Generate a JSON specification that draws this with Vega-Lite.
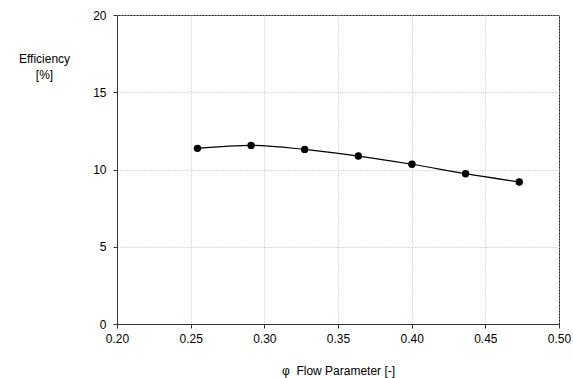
{
  "$schema": "https://vega.github.io/schema/vega-lite/v6.json",
  "width": 442,
  "height": 309,
  "autosize": {"type": "none"},
  "padding": {"left": 117, "top": 15, "right": 14, "bottom": 54},
  "background": "white",
  "config": {
    "font": "Liberation Sans",
    "view": {"stroke": "#222", "strokeWidth": 1},
    "axis": {
      "labelFont": "Liberation Sans",
      "titleFont": "Liberation Sans",
      "labelFontSize": 12,
      "titleFontSize": 12,
      "labelColor": "#000",
      "titleColor": "#000",
      "titleFontWeight": "normal",
      "domainColor": "#333",
      "tickColor": "#333",
      "tickSize": 4,
      "gridColor": "#b8b8b8",
      "gridDash": [1, 2],
      "gridWidth": 1
    }
  },
  "data": {
    "values": [
      {"phi": 0.2546, "eff": 11.37},
      {"phi": 0.2910, "eff": 11.56},
      {"phi": 0.3274, "eff": 11.30},
      {"phi": 0.3638, "eff": 10.87},
      {"phi": 0.4002, "eff": 10.34},
      {"phi": 0.4366, "eff": 9.73},
      {"phi": 0.4730, "eff": 9.19}
    ]
  },
  "encoding": {
    "x": {
      "field": "phi",
      "type": "quantitative",
      "scale": {"domain": [0.2, 0.5], "nice": false, "zero": false},
      "axis": {
        "title": "φ\u00a0\u00a0Flow Parameter [-]",
        "values": [0.2, 0.25, 0.3, 0.35, 0.4, 0.45, 0.5],
        "format": ".2f",
        "labelPadding": 5,
        "titleBaseline": "alphabetic",
        "titleY": 50,
        "labelFlush": false
      }
    },
    "y": {
      "field": "eff",
      "type": "quantitative",
      "scale": {"domain": [0, 20], "nice": false},
      "axis": {
        "title": ["Efficiency", "[%]"],
        "values": [0, 5, 10, 15, 20],
        "labelPadding": 7,
        "titleAngle": 0,
        "titleAlign": "center",
        "titleBaseline": "alphabetic",
        "titleX": -73,
        "titleY": 47,
        "titleLineHeight": 16,
        "labelFlush": false
      }
    }
  },
  "layer": [
    {
      "mark": {"type": "line", "color": "#000", "strokeWidth": 1.2, "interpolate": "monotone"}
    },
    {
      "mark": {"type": "point", "filled": true, "color": "#000", "opacity": 1, "size": 55}
    }
  ]
}
